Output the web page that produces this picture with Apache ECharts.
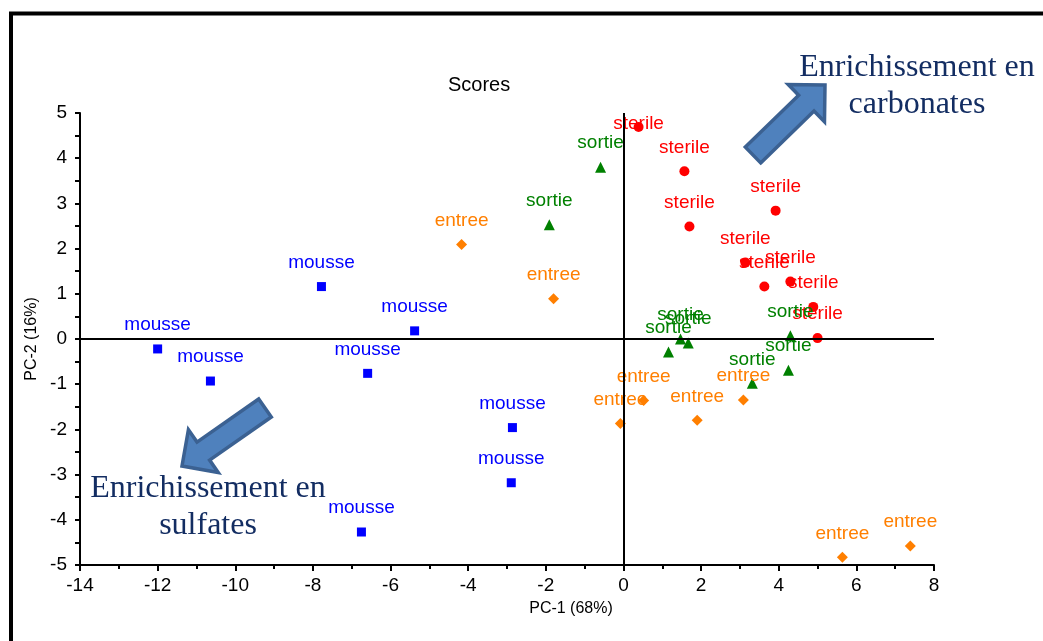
<!DOCTYPE html>
<html><head><meta charset="utf-8">
<script src="https://cdn.jsdelivr.net/npm/echarts@6/dist/echarts.min.js"></script>
<style>html,body{margin:0;padding:0;background:#fff}#c{width:1043px;height:641px}</style>
</head><body><div id="c"></div>
<script>
// ---- data ----
const groupNames = ['mousse', 'sterile', 'sortie', 'entree'];
const mousseX  = [-12.0, -10.64, -7.78, -5.38, -6.59, -2.86, -2.89, -6.75];
const mousseY  = [-0.22, -0.93, 1.16, 0.18, -0.76, -1.96, -3.18, -4.27];
const sterileX = [0.39, 1.57, 1.70, 3.92, 3.14, 3.63, 4.30, 4.89, 5.00];
const sterileY = [4.69, 3.71, 2.49, 2.84, 1.69, 1.16, 1.27, 0.71, 0.02];
const sortieX  = [-0.59, -1.91, 1.16, 1.47, 1.67, 4.30, 4.25, 3.32];
const sortieY  = [3.80, 2.53, -0.29, 0.00, -0.09, 0.07, -0.69, -0.98];
const entreeX  = [-4.17, -1.80, -0.08, 0.52, 1.90, 3.09, 5.64, 7.39];
const entreeY  = [2.09, 0.89, -1.87, -1.36, -1.80, -1.35, -4.83, -4.58];
const titleText = 'Scores';
const xAxisName = 'PC-1 (68%)';
const yAxisName = 'PC-2 (16%)';
const noteTop = 'Enrichissement en\ncarbonates';
const noteBottom = 'Enrichissement en\nsulfates';

// ---- styling ----
const SANS = '"Liberation Sans", Arial, sans-serif';
const SERIF = '"Liberation Serif", "Times New Roman", serif';
const NAVY = '#132d62';

function mk(name, xs, ys, symbol, size, color, overrides) {
  const data = xs.map((x, i) => {
    const o = overrides && overrides[i];
    return o ? { value: [x, ys[i]], label: o } : [x, ys[i]];
  });
  return {
    type: 'scatter', name, symbol, symbolSize: size, z: 3,
    itemStyle: { color, opacity: 1 },
    label: { show: true, position: 'inside', offset: [0, -24], formatter: '{a}',
             color, fontSize: 19, fontFamily: SANS },
    emphasis: { disabled: true },
    data
  };
}

function arrow(tail, tip, sw, hw, hl) {
  const dx = tip[0] - tail[0], dy = tip[1] - tail[1];
  const L = Math.hypot(dx, dy);
  const ux = dx / L, uy = dy / L, vx = -uy, vy = ux;
  const nx = tip[0] - ux * hl, ny = tip[1] - uy * hl;
  const pts = [
    [tail[0] + vx * sw, tail[1] + vy * sw],
    [nx + vx * sw, ny + vy * sw],
    [nx + vx * hw, ny + vy * hw],
    [tip[0], tip[1]],
    [nx - vx * hw, ny - vy * hw],
    [nx - vx * sw, ny - vy * sw],
    [tail[0] - vx * sw, tail[1] - vy * sw]
  ];
  return { type: 'polygon', z: 10, shape: { points: pts },
           style: { fill: '#4f81bd', stroke: '#3b6192', lineWidth: 3.5, lineJoin: 'miter' } };
}

const chart = echarts.init(document.getElementById('c'), null, { renderer: 'canvas' });
chart.setOption({
  animation: false,
  backgroundColor: '#fff',
  title: { text: titleText, left: 448, top: 75, padding: 0,
           textStyle: { fontSize: 20, fontWeight: 'normal', color: '#000', fontFamily: SANS } },
  grid: { left: 80, right: 109, top: 113, bottom: 76, containLabel: false, outerBoundsMode: 'none' },
  xAxis: {
    type: 'value', min: -14, max: 8, interval: 2,
    name: xAxisName, nameLocation: 'middle', nameGap: 36,
    nameTextStyle: { fontSize: 16, color: '#000', fontFamily: SANS, padding: [0, 0, 0, 128] },
    axisLine: { show: true, onZero: false, lineStyle: { color: '#000', width: 2 } },
    axisTick: { show: true, length: 6, lineStyle: { color: '#000', width: 2 } },
    minorTick: { show: true, splitNumber: 2, length: 4, lineStyle: { color: '#000', width: 2 } },
    axisLabel: { fontSize: 19, color: '#000', fontFamily: SANS, margin: 11 },
    splitLine: { show: false }, minorSplitLine: { show: false }
  },
  yAxis: {
    type: 'value', min: -5, max: 5, interval: 1,
    name: yAxisName, nameLocation: 'middle', nameGap: 36,
    nameTextStyle: { fontSize: 16, color: '#000', fontFamily: SANS },
    axisLine: { show: true, onZero: false, lineStyle: { color: '#000', width: 2 } },
    axisTick: { show: true, length: 5, lineStyle: { color: '#000', width: 2 } },
    minorTick: { show: true, splitNumber: 2, length: 5, lineStyle: { color: '#000', width: 2 } },
    axisLabel: { fontSize: 19, color: '#000', fontFamily: SANS, margin: 13 },
    splitLine: { show: false }, minorSplitLine: { show: false }
  },
  series: [
    { type: 'scatter', data: [], z: 1, silent: true,
      markLine: { silent: true, symbol: ['none', 'none'], label: { show: false },
                  lineStyle: { color: '#000', width: 2, type: 'solid' },
                  emphasis: { disabled: true },
                  data: [{ xAxis: 0 }, { yAxis: 0 }] } },
    mk(groupNames[0], mousseX, mousseY, 'rect', 9, '#0000ff'),
    mk(groupNames[1], sterileX, sterileY, 'circle', 10, '#ff0000', { 0: { offset: [0, -3] } }),
    mk(groupNames[2], sortieX, sortieY, 'triangle', 11, '#008000'),
    mk(groupNames[3], entreeX, entreeY, 'diamond', 11, '#ff7f00')
  ],
  graphic: [
    { type: 'rect', z: 0, silent: true, shape: { x: 11, y: 13.5, width: 1200, height: 800 },
      style: { fill: 'none', stroke: '#000', lineWidth: 4 } },
    arrow([753, 155], [825, 85], 11, 26, 26),
    arrow([265, 408], [182, 466], 11, 26, 26),
    { type: 'text', z: 10, x: 917, y: 86,
      style: { text: noteTop, fill: NAVY, font: '32px ' + SERIF, align: 'center',
               verticalAlign: 'middle', lineHeight: 37 } },
    { type: 'text', z: 10, x: 208, y: 507,
      style: { text: noteBottom, fill: NAVY, font: '32px ' + SERIF, align: 'center',
               verticalAlign: 'middle', lineHeight: 37 } }
  ]
});
</script></body></html>
